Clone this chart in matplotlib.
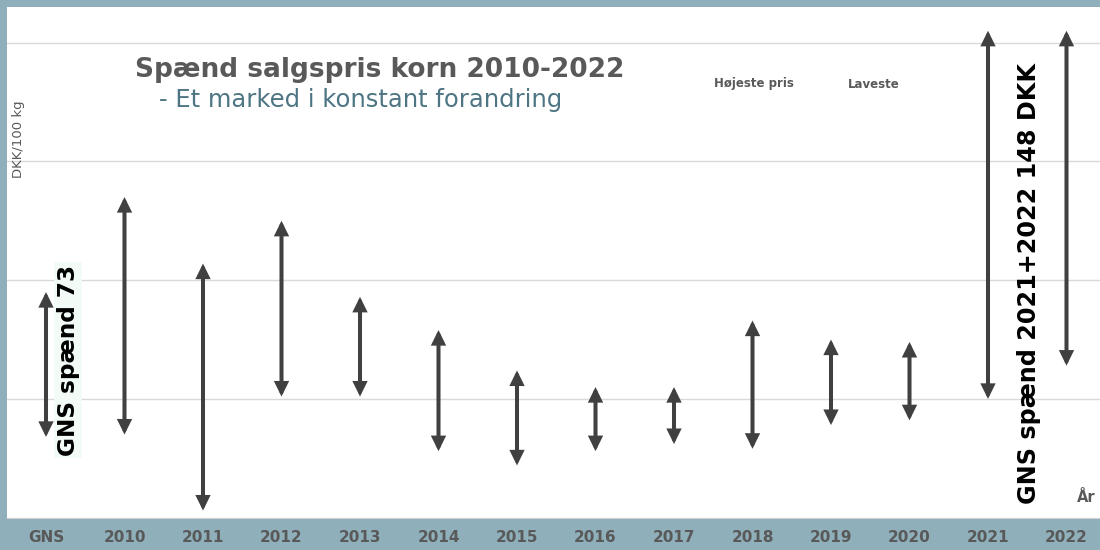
import matplotlib
matplotlib.use("Agg")
import matplotlib.pyplot as plt

# categories and price range (DKK/100 kg)
kategorier = ['GNS', '2010', '2011', '2012', '2013', '2014', '2015',
              '2016', '2017', '2018', '2019', '2020', '2021', '2022']
hoejeste = [145, 185, 157, 175, 143, 129, 112, 105, 105, 133, 125, 124, 255, 255]
laveste = [84, 85, 53, 101, 101, 78, 72, 78, 81, 79, 89, 91, 100, 114]

W, H = 1100, 550
ramme = '#8FAFBA'
graa = '#595959'
pil = '#404040'

fig = plt.figure(figsize=(W / 100, H / 100), dpi=100, facecolor=ramme)
ax = fig.add_axes([6.75 / W, (H - 517.7) / H, 1099 / W, 510.7 / H])
ax.set_facecolor('white')

x = list(range(len(kategorier)))
for i, (hi, lo) in enumerate(zip(hoejeste, laveste)):
    ax.annotate('', xy=(i, hi), xytext=(i, lo),
                arrowprops=dict(arrowstyle='<|-|>,head_length=0.65,head_width=0.32',
                                color=pil, lw=2.9, shrinkA=0, shrinkB=0,
                                joinstyle='miter'), zorder=4)

ax.set_xlim(-0.5, len(kategorier) - 0.5)
ax.set_ylim(50, 265)
ax.set_yticks([100, 150, 200, 250])
ax.yaxis.grid(True, color='#D9D9D9', lw=1)
ax.set_axisbelow(True)
ax.tick_params(axis='y', length=0, labelleft=False)
ax.set_xticks(x)
ax.set_xticklabels(kategorier, fontsize=11, fontweight='bold', color=graa)
ax.tick_params(axis='x', length=0, pad=9)
for s in ['top', 'left', 'right']:
    ax.spines[s].set_visible(False)
ax.spines['bottom'].set_color('#D0D0D0')

def px(x, y):
    return x / W, 1 - y / H

fig.text(*px(380, 70), 'Spænd salgspris korn 2010-2022', ha='center', va='center',
         fontsize=19, fontweight='bold', color=graa)
fig.text(*px(361, 100), '- Et marked i konstant forandring', ha='center', va='center',
         fontsize=17.5, color='#4E7584')
fig.text(*px(754, 84), 'Højeste pris', ha='center', va='center',
         fontsize=8.5, fontweight='bold', color=graa)
fig.text(*px(874, 84), 'Laveste', ha='center', va='center',
         fontsize=8.5, fontweight='bold', color=graa)
fig.text(*px(19, 139), 'DKK/100 kg', ha='center', va='center', rotation=90,
         fontsize=9.5, color=graa)
fig.text(*px(68, 360), 'GNS spænd 73', ha='center', va='center', rotation=90,
         fontsize=16.7, fontweight='bold', color='black',
         bbox=dict(boxstyle='square,pad=0.1', fc='#F2FBF6', ec='none'))
fig.text(*px(1029, 283), 'GNS spænd 2021+2022 148 DKK', ha='center', va='center',
         rotation=90, fontsize=17.2, fontweight='bold', color='black')
fig.text(*px(1086, 497), 'År', ha='center', va='center',
         fontsize=10.5, fontweight='bold', color=graa)

fig.savefig('out.png', dpi=100, facecolor=ramme)
